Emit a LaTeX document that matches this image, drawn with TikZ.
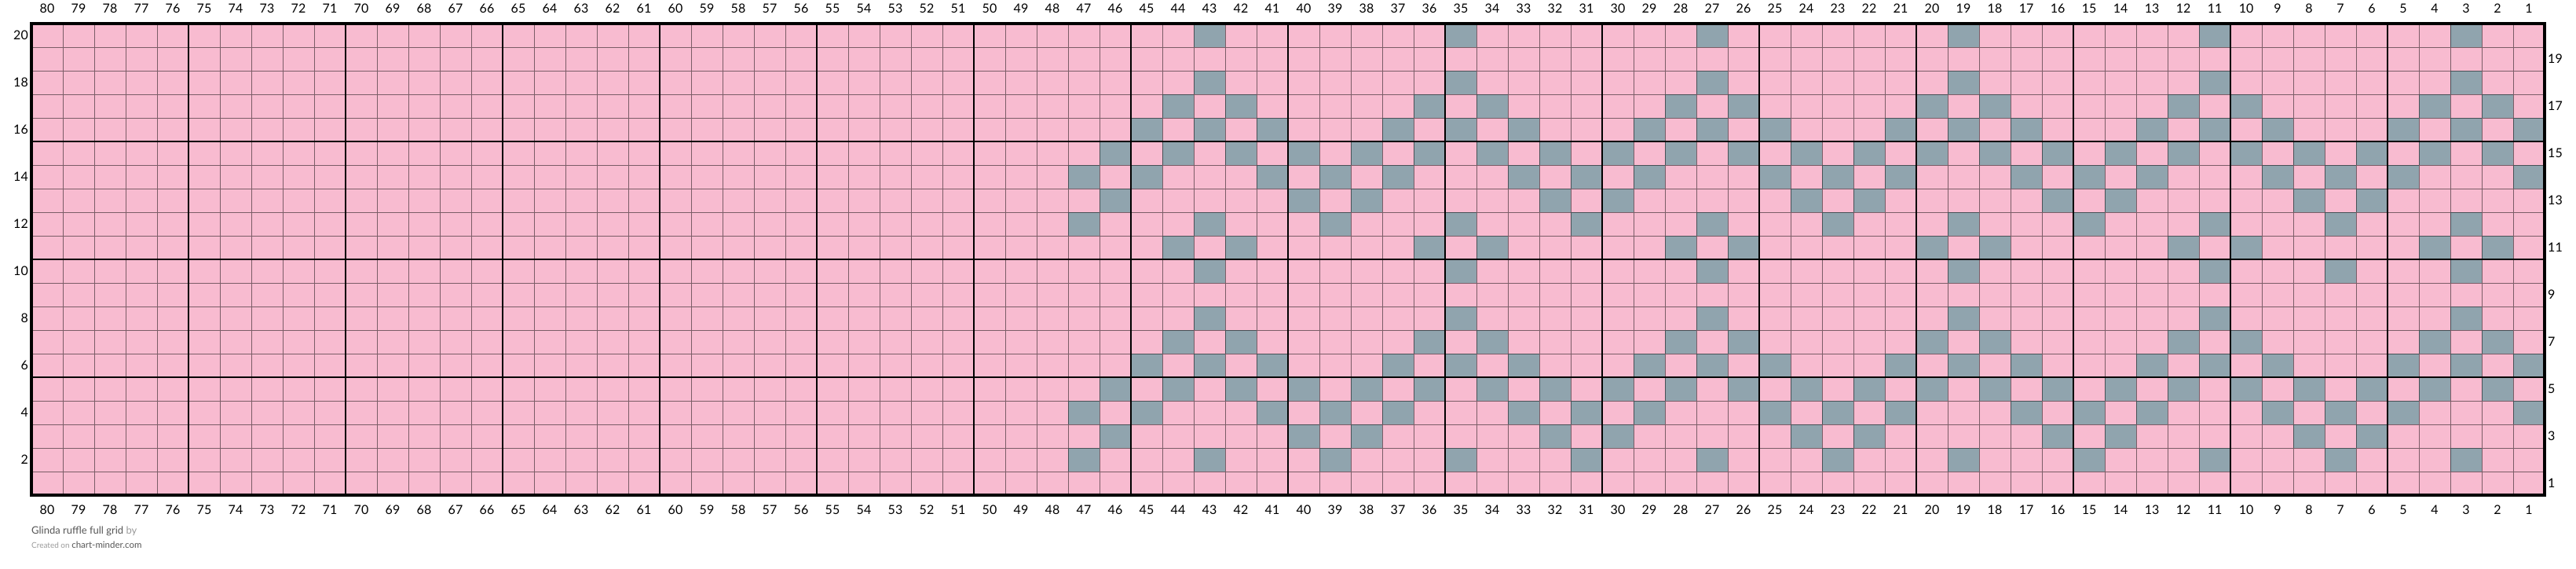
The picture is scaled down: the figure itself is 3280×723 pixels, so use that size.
\documentclass[tikz,border=0pt]{standalone}
\usepackage{fontspec}
\setmainfont{Lato}
\definecolor{pinkcell}{HTML}{F8BBD0}
\definecolor{graycell}{HTML}{90A4AE}
\definecolor{footdark}{HTML}{555555}
\definecolor{footlight}{HTML}{9A9A9A}
\begin{document}
\begin{tikzpicture}[x=1pt,y=1pt,
  num/.style={font=\fontsize{16}{16}\selectfont, inner sep=0pt, text=black},
  thinline/.style={draw=black, draw opacity=0.5, line width=1pt},
  thickline/.style={draw=black, line width=2.2pt},
  border/.style={draw=black, line width=3.2pt},
  graysq/.style={fill=graycell}]
\useasboundingbox (0,0) rectangle (3280,-723);
\fill[pinkcell] (40,-30) rectangle (3240,-630);
% grey stitches
\foreach \r/\cl in {
  20/{3,11,19,27,35,43},
  18/{3,11,19,27,35,43},
  17/{2,4,10,12,18,20,26,28,34,36,42,44},
  16/{1,3,5,9,11,13,17,19,21,25,27,29,33,35,37,41,43,45},
  15/{2,4,6,8,10,12,14,16,18,20,22,24,26,28,30,32,34,36,38,40,42,44,46},
  14/{1,5,7,9,13,15,17,21,23,25,29,31,33,37,39,41,45,47},
  13/{6,8,14,16,22,24,30,32,38,40,46},
  12/{3,7,11,15,19,23,27,31,35,39,43,47},
  11/{2,4,10,12,18,20,26,28,34,36,42,44},
  10/{3,7,11,19,27,35,43},
  8/{3,11,19,27,35,43},
  7/{2,4,10,12,18,20,26,28,34,36,42,44},
  6/{1,3,5,9,11,13,17,19,21,25,27,29,33,35,37,41,43,45},
  5/{2,4,6,8,10,12,14,16,18,20,22,24,26,28,30,32,34,36,38,40,42,44,46},
  4/{1,5,7,9,13,15,17,21,23,25,29,31,33,37,39,41,45,47},
  3/{6,8,14,16,22,24,30,32,38,40,46},
  2/{3,7,11,15,19,23,27,31,35,39,43,47}}{
  \foreach \c in \cl {
    \fill[graysq] ({3240-40*\c},{30*\r-630}) rectangle ++(40,-30);
  }
}
% thin grid
\draw[thinline] (40,-30) grid[xstep=40pt,ystep=30pt] (3240,-630);
% thick grid every 5 stitches / rows
\foreach \i in {1,...,15} {
  \draw[thickline] ({40+200*\i},-30) -- ({40+200*\i},-630);
}
\foreach \j in {1,...,3} {
  \draw[thickline] (40,{-30-150*\j}) -- (3240,{-30-150*\j});
}
\draw[border] (40,-30) rectangle (3240,-630);
% column numbers
\foreach \c in {1,...,80} {
  \node[num] (ct\c) at ({3260-40*\c},-10.5) {\c};
  \node[num] (cb\c) at ({3260-40*\c},-649) {\c};
}
% row numbers
\foreach \r in {2,4,...,20} {
  \node[num,anchor=east] (rl\r) at (36,{30*\r-645}) {\r};
}
\foreach \r in {1,3,...,19} {
  \node[num,anchor=west] (rr\r) at (3244,{30*\r-645}) {\r};
}
% footer
\node[anchor=base west, inner sep=0pt, text=footdark, font=\fontsize{13}{13}\selectfont] (title) at (40,-679) {Glinda ruffle full grid \textcolor{footlight}{by}};
\node[anchor=base west, inner sep=0pt, text=footlight, font=\fontsize{10}{10}\selectfont] (credit) at (40,-697) {Created on \textcolor{footdark}{\fontsize{11.5}{11.5}\selectfont chart-minder.com}};
\end{tikzpicture}
\end{document}
